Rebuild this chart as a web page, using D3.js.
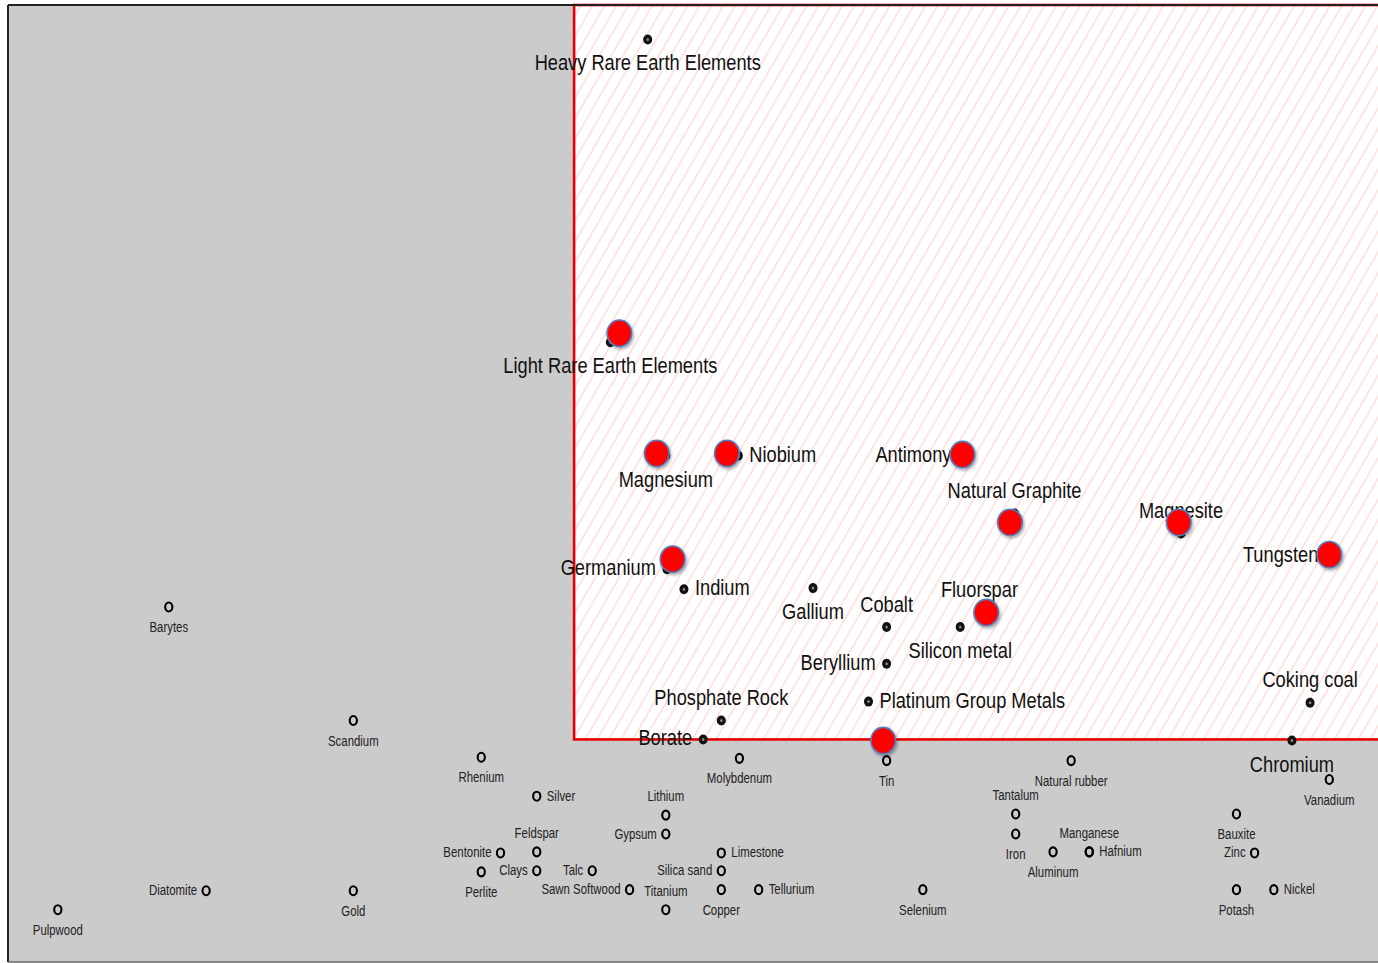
<!DOCTYPE html>
<html>
<head>
<meta charset="utf-8">
<script src="https://cdn.jsdelivr.net/npm/d3@7"></script>
<style>
  body { margin: 0; background: #fff; }
  svg { display: block; }
  .lbl { font-family: "Liberation Sans", Arial, Helvetica, sans-serif; }
  .big { font-size: 22px; fill: #111; }
  .small { font-size: 15px; fill: #222; }
</style>
</head>
<body>
<svg id="chart" width="1378" height="963"></svg>
<script>
// commodities drawn as filled dots with large labels (inside the risk box, plus Chromium on its edge)
const majorNames = ["Heavy Rare Earth Elements", "Light Rare Earth Elements", "Magnesium", "Niobium",
  "Antimony", "Natural Graphite", "Magnesite", "Tungsten", "Germanium", "Indium", "Gallium", "Cobalt",
  "Fluorspar", "Silicon metal", "Beryllium", "Platinum Group Metals", "Phosphate Rock", "Borate",
  "Coking coal", "Chromium"];
const majorX = [5.65, 5.32, 5.81, 6.45, 8.43, 8.89, 10.36, 11.67, 5.82, 5.97, 7.11, 7.76,
  8.58, 8.41, 7.76, 7.60, 6.30, 6.14, 11.50, 11.34];
const majorY = [8.29, 5.57, 4.55, 4.55, 4.55, 4.03, 3.85, 3.65, 3.53, 3.35, 3.36, 3.01,
  3.14, 3.01, 2.68, 2.34, 2.17, 2.00, 2.33, 1.99];

// commodities drawn as open rings with small labels
const minorNames = ["Tin", "Natural rubber", "Rhenium", "Molybdenum", "Vanadium", "Silver", "Lithium",
  "Tantalum", "Bauxite", "Gypsum", "Iron", "Feldspar", "Bentonite", "Limestone", "Aluminum", "Hafnium",
  "Manganese", "Zinc", "Clays", "Perlite", "Talc", "Silica sand", "Sawn Softwood", "Copper", "Tellurium",
  "Titanium", "Selenium", "Potash", "Nickel", "Barytes", "Scandium", "Diatomite", "Gold", "Pulpwood"];
const minorX = [7.76, 9.39, 4.18, 6.46, 11.67, 4.67, 5.81, 8.90, 10.85, 5.81, 8.90, 4.67, 4.35, 6.30,
  9.23, 9.55, 9.55, 11.01, 4.67, 4.18, 5.16, 6.30, 5.49, 6.30, 6.63, 5.81, 8.08, 10.85, 11.18,
  1.42, 3.05, 1.75, 3.05, 0.44];
const minorY = [1.81, 1.81, 1.84, 1.83, 1.64, 1.49, 1.32, 1.33, 1.33, 1.15, 1.15, 0.99, 0.98, 0.98,
  0.99, 0.99, 0.99, 0.98, 0.82, 0.81, 0.82, 0.82, 0.65, 0.65, 0.65, 0.47, 0.65, 0.65, 0.65,
  3.19, 2.17, 0.64, 0.64, 0.47];

// red markers flagged as critical
const critNames = ["Light Rare Earth Elements", "Magnesium", "Niobium", "Antimony", "Natural Graphite",
  "Magnesite", "Tungsten", "Germanium", "Fluorspar", "Tin"];
const critX = [5.40, 5.73, 6.35, 8.43, 8.85, 10.34, 11.67, 5.87, 8.64, 7.73];
const critY = [5.65, 4.57, 4.57, 4.56, 3.95, 3.95, 3.66, 3.62, 3.14, 1.99];

// thresholds of the hatched box
const xThreshold = 5;
const yThreshold = 2;
const xMax = 12.1;
const yMax = 8.6;

// which side of its marker each label sits on
const labelSide = {
  "Heavy Rare Earth Elements": "below", "Light Rare Earth Elements": "below", "Magnesium": "below",
  "Niobium": "right", "Antimony": "left", "Natural Graphite": "above", "Magnesite": "above",
  "Tungsten": "left", "Germanium": "left", "Indium": "right", "Gallium": "below", "Cobalt": "above",
  "Fluorspar": "above", "Silicon metal": "below", "Beryllium": "left", "Platinum Group Metals": "right",
  "Phosphate Rock": "above", "Borate": "left", "Coking coal": "above", "Chromium": "below",
  "Tin": "below", "Natural rubber": "below", "Rhenium": "below", "Molybdenum": "below",
  "Vanadium": "below", "Silver": "right", "Lithium": "above", "Tantalum": "above", "Bauxite": "below",
  "Gypsum": "left", "Iron": "below", "Feldspar": "above", "Bentonite": "left", "Limestone": "right",
  "Aluminum": "below", "Hafnium": "right", "Manganese": "above", "Zinc": "left", "Clays": "left",
  "Perlite": "below", "Talc": "left", "Silica sand": "left", "Sawn Softwood": "left", "Copper": "below",
  "Tellurium": "right", "Titanium": "above", "Selenium": "below", "Potash": "below", "Nickel": "right",
  "Barytes": "below", "Scandium": "below", "Diatomite": "left", "Gold": "below", "Pulpwood": "below"
};

const svg = d3.select("#chart");
const width = +svg.attr("width");
const height = +svg.attr("height");

const x = d3.scaleLinear().domain([0, xMax]).range([8, 1378]);
const y = d3.scaleLinear().domain([0, yMax]).range([962, 5]);

const defs = svg.append("defs");
const pat = defs.append("pattern")
  .attr("id", "hatch")
  .attr("patternUnits", "userSpaceOnUse")
  .attr("width", 10.3).attr("height", 10.3)
  .attr("patternTransform", "rotate(30)");
pat.append("rect").attr("width", 10.3).attr("height", 10.3).attr("fill", "#fff");
pat.append("line").attr("x1", 1).attr("y1", 0).attr("x2", 1).attr("y2", 10.3)
  .attr("stroke", "#ffcfcf").attr("stroke-width", 1.1);

defs.append("filter").attr("id", "shadow")
  .attr("x", "-50%").attr("y", "-50%").attr("width", "200%").attr("height", "200%")
  .append("feDropShadow")
  .attr("dx", 1.2).attr("dy", 2).attr("stdDeviation", 1.4)
  .attr("flood-color", "#000").attr("flood-opacity", 0.35);

// grey plot area
svg.append("rect")
  .attr("x", x(0)).attr("y", y(yMax))
  .attr("width", width - x(0) + 10).attr("height", y(0) - y(yMax))
  .attr("fill", "#cbcbcb");

// hatched risk box
svg.append("rect")
  .attr("x", x(xThreshold)).attr("y", y(yMax))
  .attr("width", width - x(xThreshold) + 10).attr("height", y(yThreshold) - y(yMax))
  .attr("fill", "url(#hatch)")
  .attr("stroke", "#e60000").attr("stroke-width", 2.6);

// frame
svg.append("line").attr("x1", x(0)).attr("x2", width + 5).attr("y1", y(yMax)).attr("y2", y(yMax))
  .attr("stroke", "#222").attr("stroke-width", 2.2);
svg.append("line").attr("x1", x(0)).attr("x2", x(0)).attr("y1", y(yMax)).attr("y2", y(0))
  .attr("stroke", "#222").attr("stroke-width", 2);
svg.append("line").attr("x1", x(0)).attr("x2", width + 5).attr("y1", y(0)).attr("y2", y(0))
  .attr("stroke", "#6b6b6b").attr("stroke-width", 1.5);

const major = majorNames.map((n, i) => ({ name: n, x: majorX[i], y: majorY[i], big: true }));
const minor = minorNames.map((n, i) => ({ name: n, x: minorX[i], y: minorY[i], big: false }));
const crit = critNames.map((n, i) => ({ name: n, x: critX[i], y: critY[i] }));

// filled dots
const g = svg.append("g");
g.selectAll("ellipse.dot")
  .data(major)
  .enter()
  .append("ellipse")
  .attr("class", "dot")
  .attr("cx", d => x(d.x)).attr("cy", d => y(d.y))
  .attr("rx", 4.5).attr("ry", 5)
  .attr("fill", "#111");
g.selectAll("ellipse.core")
  .data(major)
  .enter()
  .append("ellipse")
  .attr("class", "core")
  .attr("cx", d => x(d.x)).attr("cy", d => y(d.y))
  .attr("rx", 1.3).attr("ry", 1.5)
  .attr("fill", "#8a8a8a");

// open rings
g.selectAll("ellipse.ring")
  .data(minor)
  .enter()
  .append("ellipse")
  .attr("class", "ring")
  .attr("cx", d => x(d.x)).attr("cy", d => y(d.y))
  .attr("rx", 3.6).attr("ry", 4.5)
  .attr("fill", "none")
  .attr("stroke", "#000").attr("stroke-width", 2.1);

// labels: condensed type, like the original's narrow face
function offset(d) {
  const side = labelSide[d.name];
  if (d.big) {
    if (side === "below") return [0, 31, "middle"];
    if (side === "above") return [0, -15.5, "middle"];
    if (side === "left") return [-11, 6, "end"];
    return [11, 6, "start"];
  }
  if (side === "below") return [0, 25, "middle"];
  if (side === "above") return [0, -14, "middle"];
  if (side === "left") return [-9, 4.5, "end"];
  return [10, 4.5, "start"];
}

svg.append("g").selectAll("text")
  .data(major.concat(minor))
  .enter()
  .append("text")
  .attr("class", d => "lbl " + (d.big ? "big" : "small"))
  .attr("transform", d => {
    const o = offset(d);
    return `translate(${x(d.x) + o[0]},${y(d.y) + o[1]}) scale(${d.big ? 0.83 : 0.76},1)`;
  })
  .attr("text-anchor", d => offset(d)[2])
  .text(d => d.name);

// critical markers on top
svg.append("g").selectAll("ellipse")
  .data(crit)
  .enter()
  .append("ellipse")
  .attr("cx", d => x(d.x)).attr("cy", d => y(d.y))
  .attr("rx", 12.3).attr("ry", 13.2)
  .attr("fill", "#ff0000")
  .attr("stroke", "#4f7fc0").attr("stroke-width", 1.6)
  .attr("filter", "url(#shadow)");
</script>
</body>
</html>
